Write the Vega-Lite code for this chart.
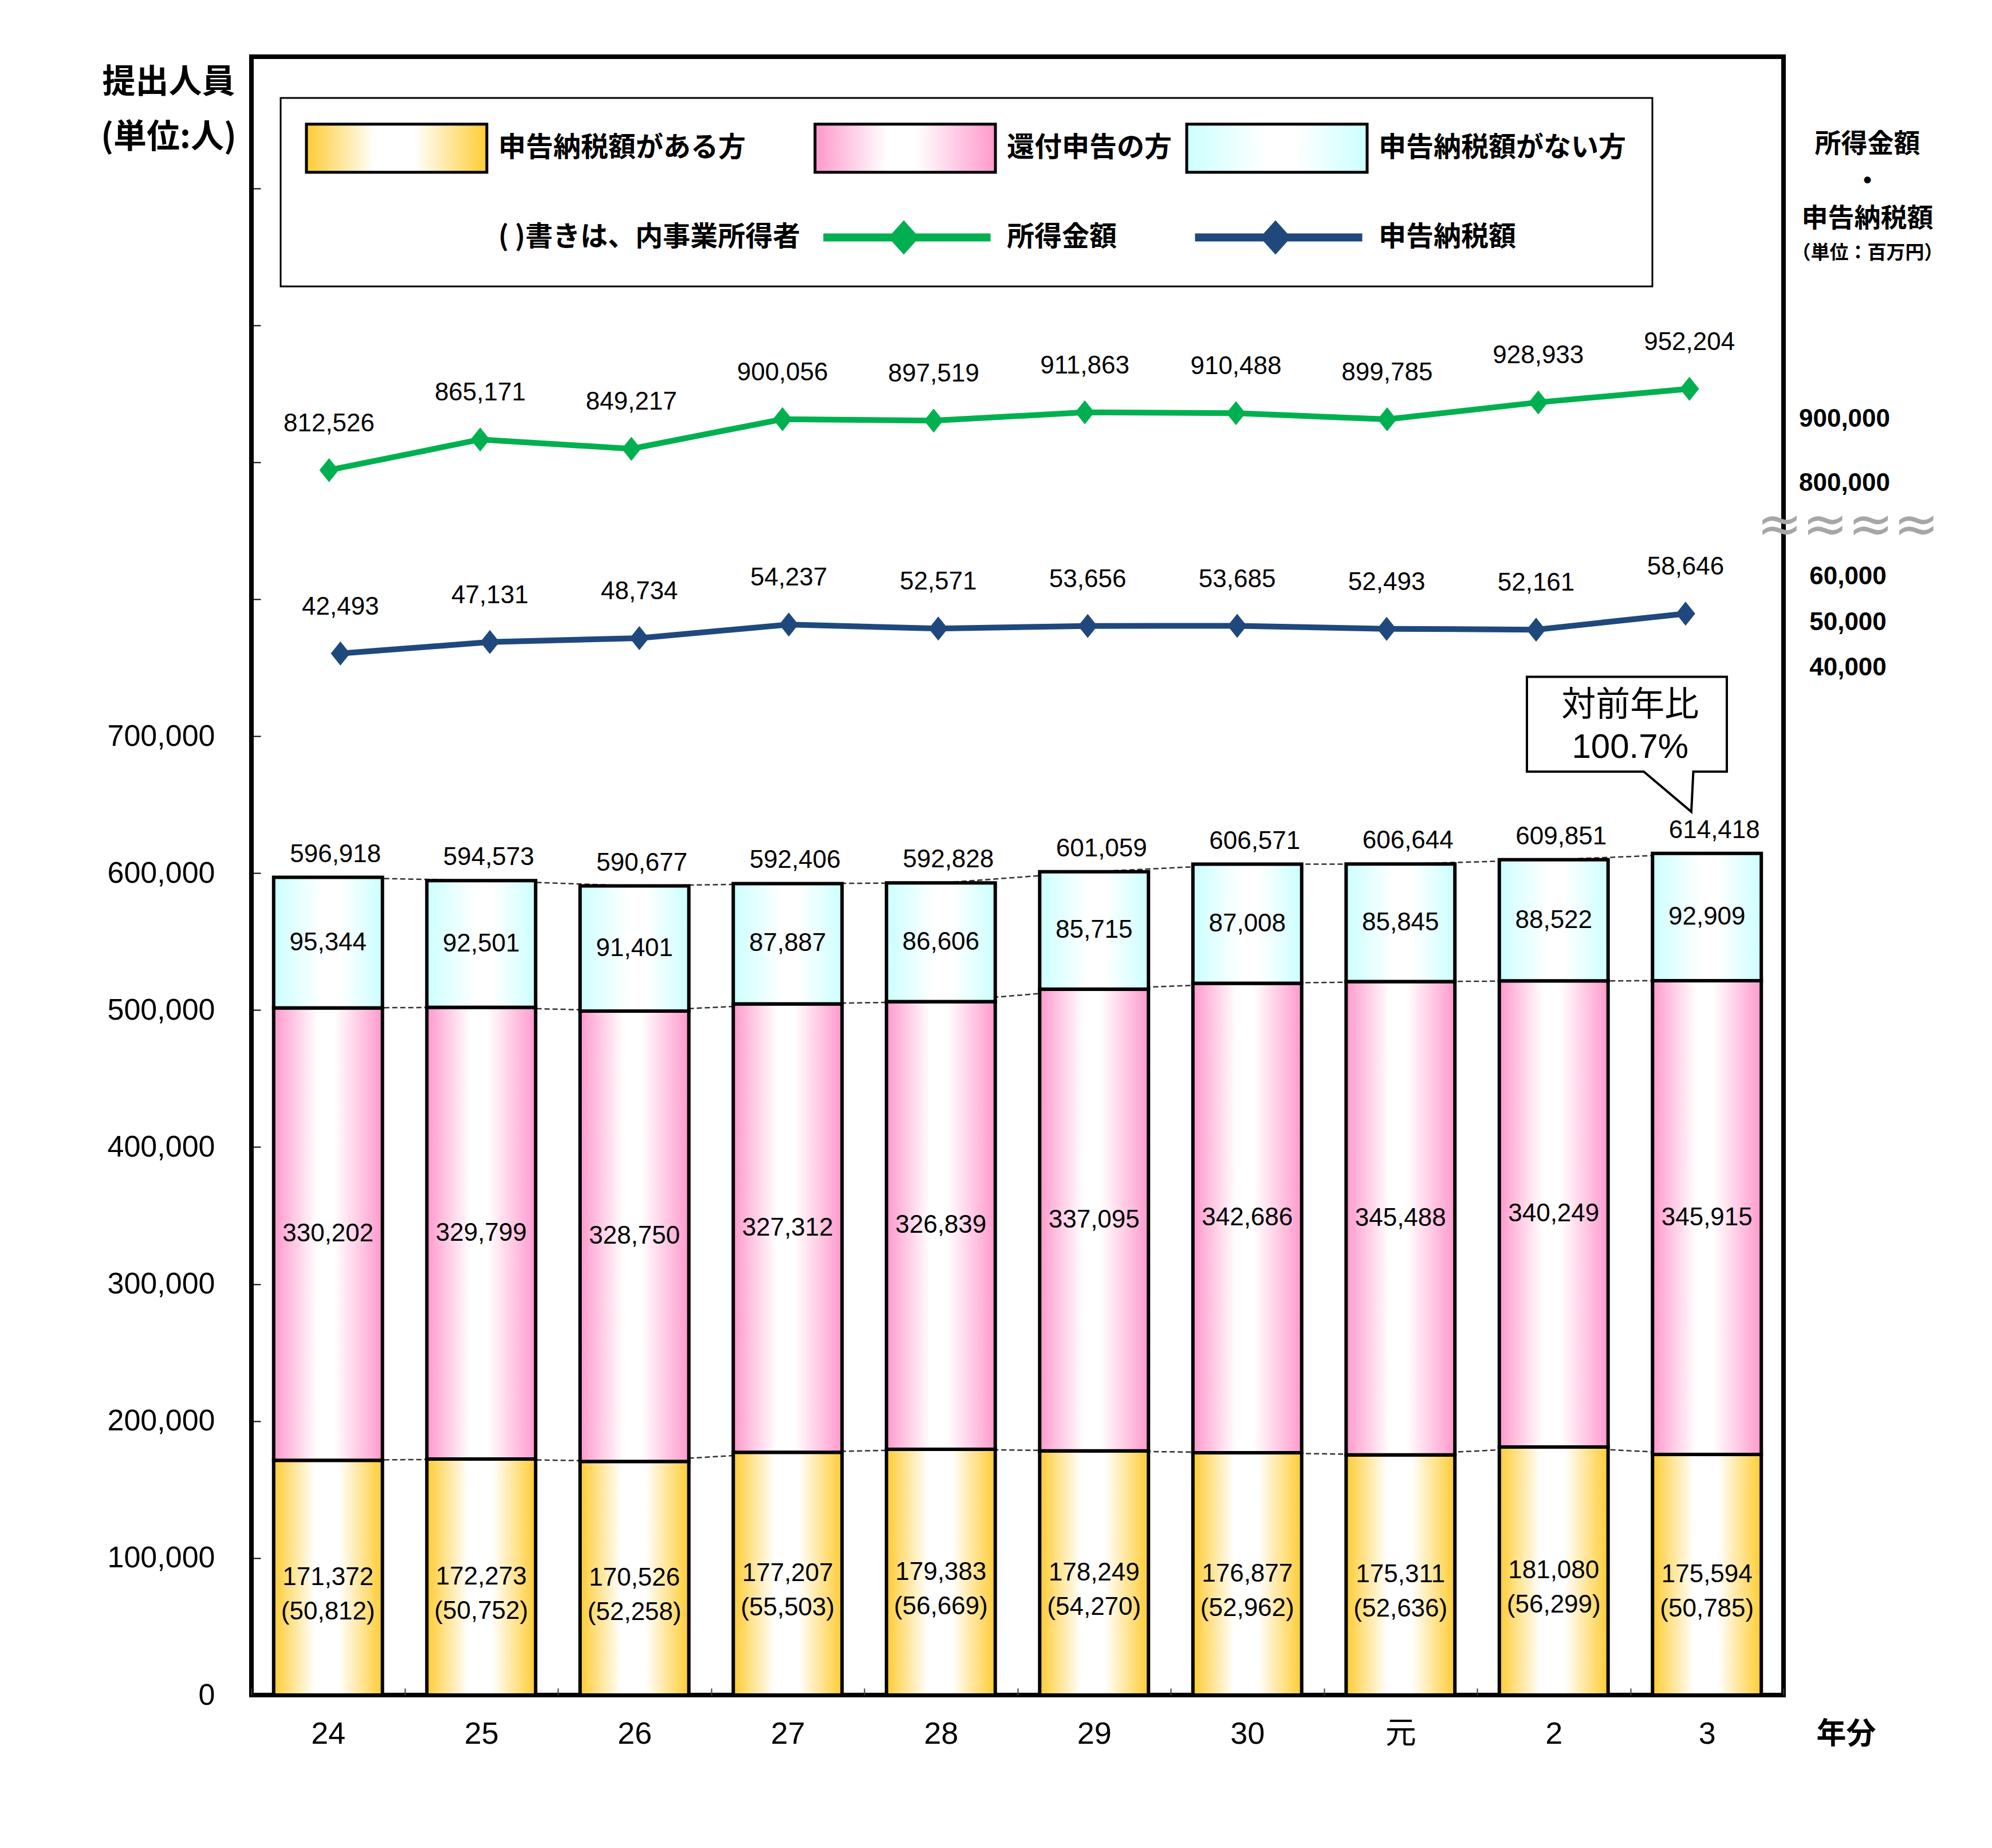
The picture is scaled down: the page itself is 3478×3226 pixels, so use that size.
{
  "$schema": "https://vega.github.io/schema/vega-lite/v6.json",
  "autosize": "none",
  "padding": {"left": 439, "top": 99, "right": 364, "bottom": 267},
  "width": 2675,
  "height": 2860,
  "background": "white",
  "config": {
    "font": "Liberation Sans",
    "view": {"stroke": "black", "strokeWidth": 8},
    "axis": {"labelColor": "black", "titleColor": "black"},
    "legend": {"strokeWidth": 3},
    "text": {"color": "black"}
  },
  "datasets": {
    "years": [
      {"year": "24", "申告納税額がある方": 171372, "還付申告の方": 330202, "申告納税額がない方": 95344, "biz": 50812, "total": 596918, "income": 812526, "tax": 42493},
      {"year": "25", "申告納税額がある方": 172273, "還付申告の方": 329799, "申告納税額がない方": 92501, "biz": 50752, "total": 594573, "income": 865171, "tax": 47131},
      {"year": "26", "申告納税額がある方": 170526, "還付申告の方": 328750, "申告納税額がない方": 91401, "biz": 52258, "total": 590677, "income": 849217, "tax": 48734},
      {"year": "27", "申告納税額がある方": 177207, "還付申告の方": 327312, "申告納税額がない方": 87887, "biz": 55503, "total": 592406, "income": 900056, "tax": 54237},
      {"year": "28", "申告納税額がある方": 179383, "還付申告の方": 326839, "申告納税額がない方": 86606, "biz": 56669, "total": 592828, "income": 897519, "tax": 52571},
      {"year": "29", "申告納税額がある方": 178249, "還付申告の方": 337095, "申告納税額がない方": 85715, "biz": 54270, "total": 601059, "income": 911863, "tax": 53656},
      {"year": "30", "申告納税額がある方": 176877, "還付申告の方": 342686, "申告納税額がない方": 87008, "biz": 52962, "total": 606571, "income": 910488, "tax": 53685},
      {"year": "元", "申告納税額がある方": 175311, "還付申告の方": 345488, "申告納税額がない方": 85845, "biz": 52636, "total": 606644, "income": 899785, "tax": 52493},
      {"year": "2", "申告納税額がある方": 181080, "還付申告の方": 340249, "申告納税額がない方": 88522, "biz": 56299, "total": 609851, "income": 928933, "tax": 52161},
      {"year": "3", "申告納税額がある方": 175594, "還付申告の方": 345915, "申告納税額がない方": 92909, "biz": 50785, "total": 614418, "income": 952204, "tax": 58646}
    ]
  },
  "data": {"name": "years"},
  "layer": [
    {
      "encoding": {
        "x": {
          "field": "year",
          "type": "ordinal",
          "scale": {"type": "band", "domain": ["24", "25", "26", "27", "28", "29", "30", "元", "2", "3"], "paddingInner": 0, "paddingOuter": 0},
          "axis": {
            "title": "年分",
            "titleX": 2784,
            "titleY": 68,
            "titleAlign": "center",
            "titleBaseline": "middle",
            "titleAngle": 0,
            "titleFont": "Noto Sans CJK JP",
            "titleFontSize": 52,
            "titleFontWeight": "bold",
            "labelAngle": 0,
            "labelFont": "Liberation Sans, Noto Sans CJK JP",
            "labelFontSize": 54,
            "labelFontWeight": "normal",
            "labelBaseline": "middle",
            "labelPadding": 80,
            "tickBand": "extent",
            "tickSize": -12,
            "tickWidth": 2,
            "tickColor": "#404040",
            "domain": false,
            "grid": false,
            "labelOverlap": false
          }
        }
      },
      "layer": [
        {
          "transform": [
            {"fold": ["申告納税額がある方", "還付申告の方", "申告納税額がない方"], "as": ["series", "value"]},
            {"stack": "value", "groupby": ["year"], "as": ["v0", "v1"]}
          ],
          "layer": [
            {
              "mark": {"type": "line", "color": "#303030", "strokeWidth": 2.5, "strokeDash": [9, 5]},
              "encoding": {
                "y": {
                  "field": "v1",
                  "type": "quantitative",
                  "scale": {"domain": [0, 1196000], "nice": false, "zero": false},
                  "axis": {
                    "orient": "left",
                    "values": [0, 100000, 200000, 300000, 400000, 500000, 600000, 700000, 800000, 900000, 1000000, 1100000],
                    "labelExpr": "datum.value <= 700000 ? format(datum.value, ',') : ''",
                    "labelFont": "Liberation Sans",
                    "labelFontSize": 52,
                    "labelLimit": 500,
                    "labelPadding": 80,
                    "tickSize": -16,
                    "tickWidth": 2,
                    "tickColor": "black",
                    "domain": false,
                    "grid": false,
                    "labelOverlap": false,
                    "title": ["提出人員", "(単位:人)"],
                    "titleAngle": 0,
                    "titleX": -145,
                    "titleY": 45,
                    "titleAlign": "center",
                    "titleBaseline": "middle",
                    "titleLineHeight": 96,
                    "titleFont": "Noto Sans CJK JP",
                    "titleFontSize": 58,
                    "titleFontWeight": "bold"
                  }
                },
                "detail": {"field": "series"}
              }
            },
            {
              "mark": {"type": "bar", "width": {"band": 0.71}, "stroke": "black", "strokeWidth": 6, "opacity": 1},
              "encoding": {
                "y": {"field": "v1", "type": "quantitative", "scale": {"domain": [0, 1196000], "nice": false, "zero": false}},
                "y2": {"field": "v0"},
                "fill": {
                  "field": "series",
                  "type": "nominal",
                  "scale": {
                    "domain": ["申告納税額がある方", "還付申告の方", "申告納税額がない方", "( )書きは、内事業所得者", "所得金額", "申告納税額"],
                    "range": [
                      {"expr": "{gradient: 'linear', x1: 0, y1: 0, x2: 1, y2: 0, stops: [{offset: 0, color: '#FFCC33'}, {offset: 0.38, color: '#FFFFFF'}, {offset: 0.6, color: '#FFFFFF'}, {offset: 1, color: '#FFCC33'}]}"},
                      {"expr": "{gradient: 'linear', x1: 0, y1: 0, x2: 1, y2: 0, stops: [{offset: 0, color: '#FF99CC'}, {offset: 0.4, color: '#FFFFFF'}, {offset: 0.56, color: '#FFFFFF'}, {offset: 1, color: '#FF99CC'}]}"},
                      {"expr": "{gradient: 'linear', x1: 0, y1: 0, x2: 1, y2: 0, stops: [{offset: 0, color: '#CCFFFF'}, {offset: 0.45, color: '#FFFFFF'}, {offset: 0.6, color: '#FFFFFF'}, {offset: 1, color: '#CCFFFF'}]}"},
                      "transparent",
                      "#00B050",
                      "#1F497D"
                    ]
                  },
                  "legend": {
                    "title": null, "orient": "none", "legendX": 51, "legendY": 72, "direction": "horizontal", "columns": 3,
                    "padding": 45, "strokeColor": "black", "fillColor": "white", "symbolSize": 6400, "symbolStrokeWidth": 5, "symbolOpacity": 1,
                    "labelFont": "Noto Sans CJK JP", "labelFontSize": 48, "labelFontWeight": "bold", "labelColor": "black", "labelLimit": 3000,
                    "labelOffset": 250, "columnPadding": 15, "rowPadding": 61
                  }
                }
              }
            },
            {
              "transform": [
                {"fold": ["v0", "v1"], "as": ["edge", "pos"]},
                {"aggregate": [{"op": "mean", "field": "pos", "as": "mid"}], "groupby": ["year", "series", "value", "biz"]}
              ],
              "layer": [
                {
                  "mark": {"type": "text", "fontSize": 44, "baseline": "middle"},
                  "encoding": {
                    "y": {"field": "mid", "type": "quantitative", "scale": {"domain": [0, 1196000], "nice": false, "zero": false}},
                    "text": {"field": "value", "type": "quantitative", "format": ","}
                  }
                },
                {
                  "transform": [
                    {"filter": "datum.series === '申告納税額がある方'"},
                    {"calculate": "'(' + format(datum.biz, ',') + ')'", "as": "bizLabel"}
                  ],
                  "mark": {"type": "text", "fontSize": 44, "baseline": "middle", "dy": 60},
                  "encoding": {
                    "y": {"field": "mid", "type": "quantitative", "scale": {"domain": [0, 1196000], "nice": false, "zero": false}},
                    "text": {"field": "bizLabel", "type": "nominal"}
                  }
                }
              ]
            }
          ]
        },
        {
          "mark": {"type": "text", "fontSize": 44, "baseline": "middle", "dy": -40, "dx": 13},
          "encoding": {
            "y": {"field": "total", "type": "quantitative", "scale": {"domain": [0, 1196000], "nice": false, "zero": false}},
            "text": {"field": "total", "type": "quantitative", "format": ","}
          }
        },
        {
          "transform": [{"filter": "datum.year === '3'"}],
          "layer": [
            {
              "mark": {"type": "point", "shape": "M-3.1425,-3.082L0.3475,-3.082L0.3475,-1.427L-0.2375,-1.427L-0.2725,-0.727L-1.1025,-1.427L-3.1425,-1.427Z", "size": 40000, "filled": true, "fill": "white", "stroke": "black", "strokeWidth": 4, "opacity": 1},
              "encoding": {
                "y": {"field": "total", "type": "quantitative", "scale": {"domain": [0, 1196000], "nice": false, "zero": false}}
              }
            },
            {
              "mark": {"type": "text", "text": ["対前年比", "100.7%"], "font": "Liberation Sans, Noto Sans CJK JP", "fontSize": 60, "lineHeight": 73, "dx": -134, "dy": -258, "baseline": "middle", "align": "center"},
              "encoding": {
                "y": {"field": "total", "type": "quantitative", "scale": {"domain": [0, 1196000], "nice": false, "zero": false}}
              }
            }
          ]
        }
      ]
    },
    {
      "encoding": {
        "x": {
          "field": "year",
          "type": "ordinal",
          "scale": {"type": "point", "domain": ["24", "25", "26", "27", "28", "29", "30", "元", "2", "3"], "padding": 0.568, "align": 0.452},
          "axis": null
        },
        "y": {
          "field": "income",
          "type": "quantitative",
          "scale": {"domain": [-1291489, 1522651], "nice": false, "zero": false},
          "axis": {
            "orient": "right",
            "values": [800000, 900000],
            "labelExpr": "format(datum.value, ',')",
            "labelFont": "Liberation Sans",
            "labelFontSize": 44,
            "labelFontWeight": "bold",
            "labelAlign": "center",
            "labelBaseline": "middle",
            "labelPadding": 106,
            "labelOffset": {"condition": {"test": "datum.value < 850000", "value": 10}, "value": 0},
            "labelLimit": 500,
            "ticks": false,
            "tickSize": 0,
            "domain": false,
            "grid": false,
            "labelOverlap": false,
            "title": ["所得金額", "・", "申告納税額"],
            "titleAngle": 0,
            "titleX": 146,
            "titleY": 152,
            "titleAlign": "center",
            "titleBaseline": "middle",
            "titleLineHeight": 65,
            "titleFont": "Noto Sans CJK JP",
            "titleFontSize": 46,
            "titleFontWeight": "bold"
          }
        }
      },
      "layer": [
        {"mark": {"type": "line", "color": "#00B050", "strokeWidth": 10}},
        {"mark": {"type": "point", "shape": "M-0.8,0L0,-1L0.8,0L0,1Z", "size": 1764, "filled": true, "color": "#00B050", "opacity": 1}},
        {
          "mark": {"type": "text", "fontSize": 44, "baseline": "middle", "dy": -81},
          "encoding": {"text": {"field": "income", "type": "quantitative", "format": ","}}
        }
      ]
    },
    {
      "encoding": {
        "x": {
          "field": "year",
          "type": "ordinal",
          "scale": {"type": "point", "domain": ["24", "25", "26", "27", "28", "29", "30", "元", "2", "3"], "padding": 0.6254, "align": 0.476},
          "axis": null
        },
        "y": {
          "field": "tax",
          "type": "quantitative",
          "scale": {"domain": [-379363, 284210], "nice": false, "zero": false},
          "axis": null
        }
      },
      "layer": [
        {"mark": {"type": "line", "color": "#1F497D", "strokeWidth": 10}},
        {"mark": {"type": "point", "shape": "M-0.8,0L0,-1L0.8,0L0,1Z", "size": 1764, "filled": true, "color": "#1F497D", "opacity": 1}},
        {
          "mark": {"type": "text", "fontSize": 44, "baseline": "middle", "dy": -81},
          "encoding": {"text": {"field": "tax", "type": "quantitative", "format": ","}}
        }
      ]
    },
    {
      "data": {"values": []},
      "mark": {"type": "point", "opacity": 0},
      "encoding": {
        "y": {
          "field": "tax",
          "type": "quantitative",
          "scale": {"domain": [-184552, 173619], "nice": false, "zero": false},
          "axis": {
            "orient": "right",
            "values": [40000, 50000, 60000, 71052],
            "labelExpr": "datum.value > 65000 ? '≈≈≈≈' : format(datum.value, ',')",
            "labelFont": {"condition": {"test": "datum.value > 65000", "value": "DejaVu Sans"}, "value": "Liberation Sans"},
            "labelFontSize": {"condition": {"test": "datum.value > 65000", "value": 95}, "value": 44},
            "labelColor": {"condition": {"test": "datum.value > 65000", "value": "#A6A6A6"}, "value": "black"},
            "labelFontWeight": {"condition": {"test": "datum.value > 65000", "value": "normal"}, "value": "bold"},
            "labelAlign": "center",
            "labelBaseline": "middle",
            "labelPadding": 112,
            "labelLimit": 1000,
            "ticks": false,
            "tickSize": 0,
            "domain": false,
            "grid": false,
            "labelOverlap": false,
            "title": "（単位：百万円）",
            "titleAngle": 0,
            "titleX": 146,
            "titleY": 342,
            "titleAlign": "center",
            "titleBaseline": "middle",
            "titleFont": "Noto Sans CJK JP",
            "titleFontSize": 33,
            "titleFontWeight": "bold"
          }
        }
      }
    },
    {
      "data": {"values": [{"k": "申告納税額がある方"}, {"k": "還付申告の方"}, {"k": "申告納税額がない方"}, {"k": "( )書きは、内事業所得者"}, {"k": "所得金額"}, {"k": "申告納税額"}]},
      "transform": [{"filter": "false"}],
      "mark": {"type": "point", "filled": true, "opacity": 1},
      "encoding": {
        "fill": {
          "field": "k",
          "type": "nominal",
          "scale": {
            "domain": ["申告納税額がある方", "還付申告の方", "申告納税額がない方", "( )書きは、内事業所得者", "所得金額", "申告納税額"],
            "range": [
              {"expr": "{gradient: 'linear', x1: 0, y1: 0, x2: 1, y2: 0, stops: [{offset: 0, color: '#FFCC33'}, {offset: 0.38, color: '#FFFFFF'}, {offset: 0.6, color: '#FFFFFF'}, {offset: 1, color: '#FFCC33'}]}"},
              {"expr": "{gradient: 'linear', x1: 0, y1: 0, x2: 1, y2: 0, stops: [{offset: 0, color: '#FF99CC'}, {offset: 0.4, color: '#FFFFFF'}, {offset: 0.56, color: '#FFFFFF'}, {offset: 1, color: '#FF99CC'}]}"},
              {"expr": "{gradient: 'linear', x1: 0, y1: 0, x2: 1, y2: 0, stops: [{offset: 0, color: '#CCFFFF'}, {offset: 0.45, color: '#FFFFFF'}, {offset: 0.6, color: '#FFFFFF'}, {offset: 1, color: '#CCFFFF'}]}"},
              "transparent",
              "#00B050",
              "#1F497D"
            ]
          },
          "legend": {
            "title": null, "orient": "none", "legendX": 51, "legendY": 72, "direction": "horizontal", "columns": 3,
            "padding": 45, "strokeColor": "black", "fillColor": "white", "symbolSize": 6400, "symbolStrokeWidth": 5, "symbolOpacity": 1,
            "labelFont": "Noto Sans CJK JP", "labelFontSize": 48, "labelFontWeight": "bold", "labelColor": "black", "labelLimit": 3000,
            "labelOffset": 250, "columnPadding": 15, "rowPadding": 61
          }
        },
        "stroke": {
          "field": "k",
          "type": "nominal",
          "scale": {
            "domain": ["申告納税額がある方", "還付申告の方", "申告納税額がない方", "( )書きは、内事業所得者", "所得金額", "申告納税額"],
            "range": ["black", "black", "black", "transparent", "transparent", "transparent"]
          },
          "legend": {
            "title": null, "orient": "none", "legendX": 51, "legendY": 72, "direction": "horizontal", "columns": 3,
            "padding": 45, "strokeColor": "black", "fillColor": "white", "symbolSize": 6400, "symbolStrokeWidth": 5, "symbolOpacity": 1,
            "labelFont": "Noto Sans CJK JP", "labelFontSize": 48, "labelFontWeight": "bold", "labelColor": "black", "labelLimit": 3000,
            "labelOffset": 250, "columnPadding": 15, "rowPadding": 61
          }
        },
        "shape": {
          "field": "k",
          "type": "nominal",
          "scale": {
            "domain": ["申告納税額がある方", "還付申告の方", "申告納税額がない方", "( )書きは、内事業所得者", "所得金額", "申告納税額"],
            "range": [
              "M-1.0625,-1.05H6.8125V1.05H-1.0625Z",
              "M-1.0625,-1.05H6.8125V1.05H-1.0625Z",
              "M-1.0625,-1.05H6.8125V1.05H-1.0625Z",
              "M0,0L0.01,0Z",
              "M-0.7,-0.175H6.6V0.175H-0.7Z M2.1375,0L2.8125,-0.75L3.4875,0L2.8125,0.75Z",
              "M-0.7,-0.175H6.6V0.175H-0.7Z M2.1375,0L2.8125,-0.75L3.4875,0L2.8125,0.75Z"
            ]
          },
          "legend": {
            "title": null, "orient": "none", "legendX": 51, "legendY": 72, "direction": "horizontal", "columns": 3,
            "padding": 45, "strokeColor": "black", "fillColor": "white", "symbolSize": 6400, "symbolStrokeWidth": 5, "symbolOpacity": 1,
            "labelFont": "Noto Sans CJK JP", "labelFontSize": 48, "labelFontWeight": "bold", "labelColor": "black", "labelLimit": 3000,
            "labelOffset": 250, "columnPadding": 15, "rowPadding": 61
          }
        }
      }
    }
  ],
  "resolve": {"scale": {"y": "independent", "x": "independent"}, "axis": {"y": "independent", "x": "independent"}}
}
